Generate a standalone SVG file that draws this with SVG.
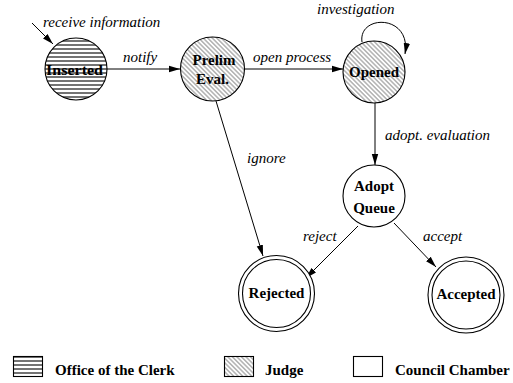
<svg xmlns="http://www.w3.org/2000/svg" width="513" height="383" viewBox="0 0 513 383">
<style>
.node{stroke:#000;stroke-width:1.1}
text{font-family:'Liberation Serif','Times New Roman','DejaVu Serif',serif;fill:#000}
.nt{font-weight:bold;font-size:15px;text-anchor:middle}
.lab{font-style:italic;font-size:15px}
.leg{font-weight:bold;font-size:15px}
.edge{stroke:#000;stroke-width:1;fill:none;marker-end:url(#arr)}
</style>
<defs>
<pattern id="horiz" patternUnits="userSpaceOnUse" width="8" height="4">
<rect width="8" height="4" fill="#fff"/>
<line x1="0" y1="1" x2="8" y2="1" stroke="#000" stroke-width="1.1"/>
</pattern>
<pattern id="hatch" patternUnits="userSpaceOnUse" width="6" height="3.2" patternTransform="rotate(45)">
<rect width="6" height="3.2" fill="#fff"/>
<line x1="0" y1="1.6" x2="6" y2="1.6" stroke="#444" stroke-width="0.7"/>
</pattern>
<marker id="arr" markerUnits="userSpaceOnUse" markerWidth="12" markerHeight="8" refX="11" refY="4" orient="auto">
<path d="M0,0.8 L11,4 L0,7.2 Z" fill="#000"/>
</marker>
</defs>
<g id="connectors">
<line class="edge" x1="32" y1="23" x2="53" y2="44"/>
<line class="edge" x1="107" y1="69" x2="180" y2="69"/>
<line class="edge" x1="245" y1="69" x2="343" y2="69"/>
<path class="edge" d="M362,42 C358,14 412,14 405,54"/>
<line class="edge" x1="375" y1="103" x2="375" y2="165"/>
<line class="edge" x1="216" y1="101" x2="263" y2="256"/>
<line class="edge" x1="358" y1="226" x2="306" y2="278"/>
<line class="edge" x1="394" y1="223" x2="436" y2="267"/>
<text class="lab" x="43" y="27">receive information</text>
<text class="lab" x="123" y="62">notify</text>
<text class="lab" x="253" y="62">open process</text>
<text class="lab" x="317" y="14">investigation</text>
<text class="lab" x="385" y="140">adopt. evaluation</text>
<text class="lab" x="247" y="163">ignore</text>
<text class="lab" x="303" y="241">reject</text>
<text class="lab" x="423" y="241">accept</text>
</g>
<g id="inserted">
<circle class="node" cx="76" cy="69" r="31" fill="url(#horiz)"/>
<text class="nt" x="74.5" y="74.5" textLength="57" lengthAdjust="spacingAndGlyphs">Inserted</text>
</g>
<g id="prelim">
<circle class="node" cx="212.5" cy="69" r="32" fill="url(#hatch)"/>
<text class="nt" x="214" y="65">Prelim</text>
<text class="nt" x="212.5" y="84">Eval.</text>
</g>
<g id="opened">
<circle class="node" cx="374" cy="72" r="31" fill="url(#hatch)"/>
<text class="nt" x="374" y="77">Opened</text>
</g>
<g id="adoptqueue">
<circle class="node" cx="374" cy="196" r="31" fill="#fff"/>
<text class="nt" x="374" y="191">Adopt</text>
<text class="nt" x="374" y="213">Queue</text>
</g>
<g id="rejected">
<circle class="node" cx="276.5" cy="293.5" r="38" fill="#fff"/>
<circle class="node" cx="276.5" cy="293.5" r="34" fill="none"/>
<text class="nt" x="276.5" y="298">Rejected</text>
</g>
<g id="accepted">
<circle class="node" cx="466" cy="295" r="38" fill="#fff"/>
<circle class="node" cx="466" cy="295" r="34" fill="none"/>
<text class="nt" x="466" y="299">Accepted</text>
</g>
<g id="legend">
<rect class="node" x="13.5" y="356.5" width="29" height="20" fill="url(#horiz)"/>
<text class="leg" x="55" y="375">Office of the Clerk</text>
<rect class="node" x="224.5" y="356.5" width="29" height="20" fill="url(#hatch)"/>
<text class="leg" x="265" y="375">Judge</text>
<rect class="node" x="353.5" y="356.5" width="29" height="20" fill="#fff"/>
<text class="leg" x="395" y="375">Council Chamber</text>
</g>
</svg>
